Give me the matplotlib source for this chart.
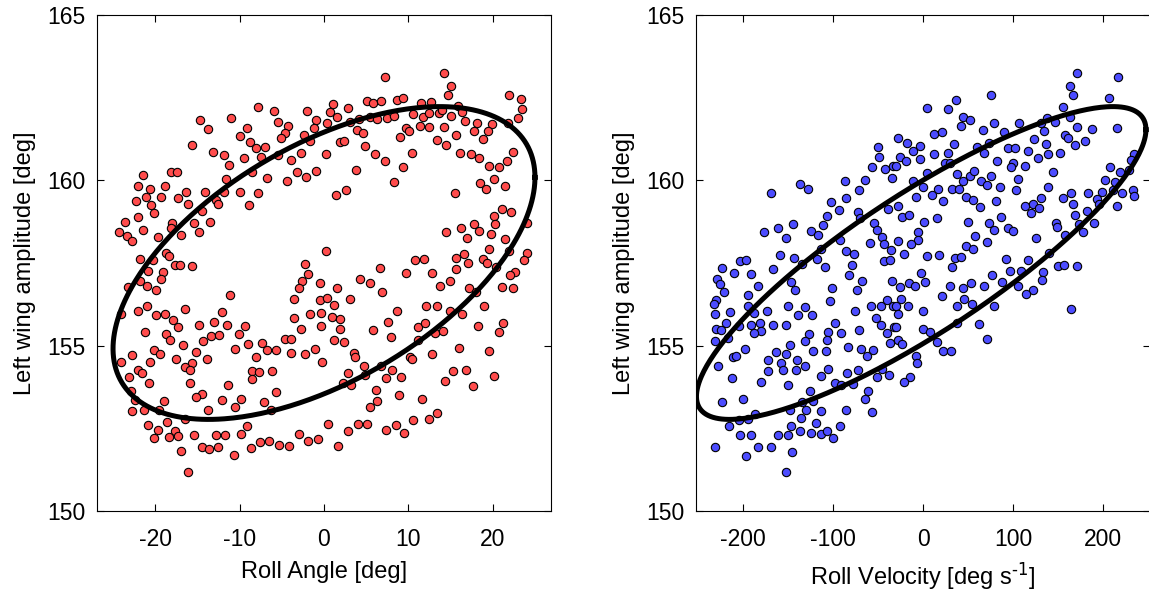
import numpy as np
import matplotlib.pyplot as plt

plt.rcParams['font.family'] = ['Liberation Sans', 'DejaVu Sans']
plt.rcParams['axes.unicode_minus'] = False
plt.rcParams['mathtext.default'] = 'regular'

# ---- left panel: roll angle vs left wing amplitude
roll_angle = [
    # upper left
    -7.8, -5.9, -2.0, -11.0, -14.7, -5.5, -0.9, -4.3, -9.1, -13.8,
    -1.2, -4.6, -9.9, -5.1, -2.4, -8.8, -1.7, -15.6, -7.0, -8.1,
    -13.2, -11.9, -2.7, -7.5, -9.5, -5.5, -3.9, -11.2, -18.1, -17.4,
    -21.5, -8.5, -3.2, -0.9, -2.1, -6.7, -4.4, -11.6, -22.0, -18.8,
    -20.6, -21.1, -19.3, -17.3, -16.4, -14.1, -11.9, -9.9, -7.8, -22.3,
    -20.5, -16.1, -12.8, -12.6, -8.9, -20.1, -22.1, -14.5, -15.4, -14.8,
    -13.5, -23.6, -18.0, -24.3, -23.3, -21.4, -22.8, -17.0, -19.7, -18.1,
    -18.7, -18.4, -21.8, -20.3, -17.7, -17.1, -15.6, -2.3, -20.8, -19.1,
    -1.9, -21.8, -19.3, -21.0, -19.9, -2.6, -3.0, -0.5, -23.2,
    # upper right
    7.2, 14.2, 15.1, 14.7, 21.9, 23.4, 23.5, 1.1, 2.8, 5.1,
    5.8, 6.8, 8.6, 9.4, 11.5, 12.7, 0.7, 1.5, 0.3, 3.1,
    4.2, 5.4, 6.3, 7.5, 8.3, 10.5, 11.7, 12.5, 13.6, 14.0,
    15.1, 15.9, 16.4, 16.7, 18.1, 19.9, 21.8, 23.0, 3.9, 4.6,
    9.7, 10.1, 9.0, 11.4, 12.4, 14.2, 15.6, 17.8, 19.4, 18.8,
    13.4, 14.5, 1.9, 2.4, 4.9, 0.2, 6.1, 7.2, 10.4, 9.4,
    3.8, 8.3, 16.1, 17.4, 18.4, 22.4, 21.7, 19.6, 20.7, 18.5,
    19.2, 20.1, 21.5, 2.6, 1.4, 15.5, 21.1, 22.2, 20.1, 20.3,
    24.0, 17.8, 16.2, 18.4, 14.5, 17.0, 19.8, 21.5, 0.2, 19.6,
    21.9, 24.0, 23.7, 16.6, 15.7, 18.9, 19.3, 17.1, 10.8, 11.9,
    6.6, 15.7, 20.4, 22.6, 22.1, 9.7, 12.8, 4.3, 5.4, 14.9,
    13.8, 17.2, 21.1, 22.4, 1.5,
    # lower left
    -11.1, -16.5, -21.0, -22.1, -19.9, -18.8, -17.9, -17.3, -24.0, -12.1,
    -13.0, -11.5, -9.4, -14.8, -21.2, -18.7, -18.2, -16.7, -14.3, -13.4,
    -12.4, -10.1, -10.5, -9.0, -7.3, -6.8, -5.7, -4.6, -3.9, -3.9,
    -2.3, -1.1, -3.5, -2.7, -1.6, -0.3, -0.2, -3.5, -0.5, -20.1,
    -19.4, -22.8, -24.1, -20.6, -17.5, -15.2, -13.9, -15.6, -16.5, -15.9,
    -22.1, -21.6, -23.1, -20.7, -15.9, -8.0, -8.5, -7.7, -6.2, -8.5,
    -11.4, -14.4, -15.2, -12.1, -9.8, -10.6, -7.1, -5.7, -6.3, -19.0,
    -22.9, -22.4, -22.7, -21.3, -19.6, -13.7, -16.5, -18.6, -20.8, -19.7,
    -17.7, -17.3, -18.4, -20.2, -15.4, -12.8, -11.7, -9.8, -9.1, -16.9,
    -14.5, -13.6, -12.6, -10.7, -8.6, -7.6, -6.5, -5.3, -4.2, -3.0,
    -1.9, -0.7, -16.1,
    # lower right
    6.9, 3.1, 0.4, 1.2, -0.3, 1.0, 1.9, 1.9, 1.2, 2.4,
    3.6, 3.7, 2.8, 4.7, 4.9, 2.3, 3.2, 5.8, 7.6, 7.9,
    8.7, 6.8, 8.1, 7.4, 9.1, 6.2, 8.9, 6.3, 5.5, 10.2,
    10.4, 11.1, 12.0, 11.1, 12.8, 12.1, 13.4, 13.1, 14.1, 14.9,
    18.0, 19.0, 16.4, 18.3, 21.2, 20.7, 16.0, 19.6, 15.3, 16.8,
    14.3, 17.6, 20.2, 11.6, 13.4, 12.5, 10.5, 8.5, 7.4, 9.5,
    5.1, 4.0, 2.8, 0.5, 1.6,
]
amp_vs_angle = [
    # upper left
    162.21, 162.10, 162.11, 161.88, 161.83, 161.77, 161.83, 161.64, 161.59, 161.54,
    161.59, 161.42, 161.33, 161.28, 161.37, 161.17, 161.18, 161.07, 161.02, 160.97,
    160.87, 160.77, 160.82, 160.72, 160.67, 160.77, 160.62, 160.45, 160.26, 160.25,
    160.16, 160.26, 160.26, 160.29, 160.11, 160.06, 159.98, 160.03, 159.83, 159.83,
    159.73, 159.49, 159.50, 159.48, 159.64, 159.64, 159.66, 159.64, 159.63, 159.38,
    159.24, 159.29, 159.41, 159.29, 159.24, 159.02, 158.90, 159.08, 158.70, 158.45,
    158.75, 158.75, 158.72, 158.45, 158.33, 158.50, 158.17, 158.36, 158.28, 158.55,
    157.81, 157.72, 157.61, 157.59, 157.44, 157.44, 157.42, 157.47, 157.27, 157.23,
    157.16, 156.97, 157.01, 156.81, 156.69, 156.97, 156.75, 156.91, 156.77,
    # upper right
    163.14, 163.26, 162.85, 162.58, 162.59, 162.45, 162.17, 162.30, 162.20, 162.41,
    162.35, 162.41, 162.43, 162.48, 162.33, 162.38, 162.08, 161.93, 161.74, 161.77,
    161.85, 161.93, 161.85, 161.88, 161.95, 162.01, 161.93, 162.03, 162.03, 162.13,
    161.96, 162.26, 162.06, 161.80, 161.72, 161.71, 161.74, 161.88, 161.52, 161.44,
    161.57, 161.49, 161.32, 161.64, 161.62, 161.62, 161.36, 161.50, 161.49, 161.24,
    161.22, 161.08, 161.15, 161.19, 161.04, 160.80, 160.80, 160.59, 160.84, 160.41,
    160.32, 159.95, 160.84, 160.80, 160.67, 160.85, 160.59, 160.44, 160.41, 159.91,
    159.73, 160.04, 159.83, 159.71, 159.56, 159.63, 159.12, 159.05, 158.93, 158.68,
    158.72, 158.68, 158.57, 158.47, 158.45, 158.27, 158.37, 158.24, 157.87, 157.91,
    157.86, 157.79, 157.59, 157.77, 157.66, 157.61, 157.49, 157.49, 157.59, 157.61,
    157.34, 157.31, 157.39, 157.22, 157.14, 157.21, 157.19, 157.02, 156.89, 156.97,
    156.79, 156.74, 156.76, 156.73, 156.73,
    # lower left
    156.54, 156.10, 156.20, 156.06, 155.93, 155.96, 155.78, 155.55, 155.96, 156.01,
    155.72, 155.63, 155.60, 155.63, 155.40, 155.36, 155.16, 155.03, 155.15, 155.28,
    155.32, 155.36, 154.91, 155.05, 155.08, 154.86, 154.87, 155.21, 155.19, 154.79,
    154.75, 154.89, 155.83, 155.51, 155.97, 155.60, 154.50, 156.41, 156.39, 154.87,
    154.75, 154.71, 154.50, 154.52, 154.59, 154.82, 154.59, 154.47, 154.35, 154.27,
    154.25, 154.17, 154.04, 153.86, 153.86, 154.65, 154.22, 154.19, 154.22, 153.99,
    153.81, 153.54, 153.46, 153.36, 153.39, 153.16, 153.31, 153.60, 153.06, 153.34,
    153.64, 153.36, 153.01, 153.06, 153.04, 153.06, 152.79, 152.68, 152.59, 152.45,
    152.43, 152.27, 152.25, 152.21, 152.30, 152.30, 152.30, 152.32, 152.57, 151.80,
    151.93, 151.88, 151.95, 151.68, 151.90, 152.10, 152.13, 152.01, 151.98, 152.33,
    152.13, 152.19, 151.19,
    # lower right
    156.62, 156.41, 156.44, 156.23, 155.98, 155.86, 155.82, 155.50, 155.16, 155.12,
    154.79, 154.67, 154.17, 154.39, 154.10, 153.87, 153.81, 155.48, 155.71, 155.26,
    156.04, 154.39, 154.27, 154.02, 154.04, 153.66, 153.51, 153.33, 153.16, 154.67,
    154.59, 155.57, 155.68, 155.18, 154.75, 156.20, 156.21, 155.38, 155.45, 156.06,
    156.61, 156.20, 155.95, 155.58, 155.70, 155.41, 154.92, 154.85, 154.22, 154.25,
    153.92, 153.78, 154.07, 153.39, 152.96, 152.79, 152.76, 152.60, 152.45, 152.35,
    152.64, 152.63, 152.41, 152.64, 151.97,
]

# ---- right panel: roll velocity vs left wing amplitude
roll_velocity = [
    # upper left
    -49.6, -48.5, -56.3, -42.6, -33.0, -34.8, -64.4, -86.7, -71.1, -136.3,
    -128.2, -168.9, -85.9, -102.6, -93.0, -71.9, -38.5, -106.3, -111.5, -144.8,
    -176.3, -160.8, -152.6, -124.8, -117.0, -54.1, -51.5, -45.9, -70.0, -92.2,
    -58.9, -43.7, -35.5, -85.6, -76.3, -113.3, -118.2, -158.2, -143.0, -134.1,
    -108.9, -79.3, -81.9, -68.2, -43.0, -36.7, -34.8, -203.3, -197.0, -222.6,
    -209.6, -190.4, -166.3, -228.5, -225.6, -183.7, -146.7, -142.2, -100.8, -73.7,
    # upper right
    170.8, 216.3, 163.4, 166.0, 206.0, 75.2, 36.3, 4.8, 28.2, 155.2,
    44.8, 52.2, 42.2, 79.3, 106.7, 130.8, 138.2, 146.7, 163.4, 171.1,
    187.4, 215.2, -27.4, -17.4, -3.3, -10.7, 12.6, 20.8, 67.1, 90.4,
    34.8, 60.4, 67.8, 73.7, 94.8, 102.2, 116.3, 123.7, 136.3, 134.5,
    157.8, 161.5, 168.2, 179.3, 152.2, 139.3, 128.2, -25.5, -19.2, -3.3,
    12.6, 27.4, 24.5, 30.0, -30.4, 82.6, 100.4, 97.8, 113.4, 144.8,
    207.1, 218.2, 228.2, 233.7, 231.1, 4.8, 38.2, 44.8, 52.2, 56.7,
    64.1, 70.8, 75.2, -10.7, 0.4, 16.3, 32.6, 40.4, 85.6, 103.0,
    105.9, 139.3, 202.3, 212.6, 210.8, 198.5, 183.7, 164.5, 155.9, 220.8,
    232.6, 233.7, 215.2, 193.0, 195.6, 181.9, 166.3, 168.9, 173.7, 177.4,
    189.3, 9.6, -7.8, 22.6, 47.8, 55.9, 63.4, 81.1, 113.4, 122.6,
    128.9, 119.6, 131.1, -28.1, -23.7, -15.5, 15.2, 1.5, 50.4, 73.7,
    78.9, 86.7, 94.8, 100.4, 147.8, 148.5, 157.8, 125.6, -5.2, -5.9,
    -13.7, -28.1, 57.8, 70.8, 47.4, 55.9, -21.1, 4.8, 17.8, 35.6,
    42.2, 32.6, 92.2, 117.1, 140.0, 150.4, 156.7, 171.5, 96.7, 108.5,
    133.7, 131.9, -2.6, 2.2, -15.2, -8.9, 76.3, 53.3, 88.2, 30.0,
    44.8, 68.2, 105.9, 122.6,
    # lower left
    -220.8, -194.1, -230.0, -231.9, -230.4, -214.5, -194.1, -187.8, -173.7, -150.4,
    -131.1, -123.7, -139.3, -103.3, -218.9, -229.3, -223.7, -231.1, -190.4, -181.1,
    -180.0, -187.4, -204.5, -216.3, -166.3, -152.2, -126.3, -131.1, -105.9, -97.8,
    -91.1, -107.0, -75.6, -71.1, -58.2, -52.2, -46.7, -40.4, -33.0, -46.7,
    -40.4, -31.9, -36.7, -147.8, -163.3, -152.6, -172.6, -157.8, -139.6, -155.2,
    -171.9, -141.5, -131.1, -121.9, -108.2, -83.0, -69.3, -55.2, -62.6, -105.2,
    -113.7, -97.8, -91.1, -84.8, -71.9, -78.2, -51.5, -45.9, -37.8, -197.8,
    -210.8, -207.1, -227.4, -211.9, -179.3, -150.4, -125.6, -134.8, -121.9, -130.4,
    -147.8, -113.3, -85.9, -64.4, -60.7, -57.0, -223.0, -199.6, -186.7, -194.1,
    -204.5, -215.6, -135.6, -146.7, -119.3, -92.2, -136.7, -124.8, -113.7, -106.3,
    -100.4, -149.6, -160.8, -190.4, -202.6, -230.4, -183.7, -168.9, -145.2, -197.0,
    -152.6,
    # lower right
    -25.5, 114.1, -24.8, -30.0, -16.3, -27.4, -0.3, -30.0, 0.4, 7.8,
    -28.1, -23.7, 20.8, 37.4, 45.9, 54.1, 79.3, 37.4, 62.6, 71.1,
    15.2, 22.6, 30.8, -7.8, -7.0, -14.4, -21.1, 164.1,
]
amp_vs_velocity = [
    # upper left
    161.00, 160.70, 160.41, 160.33, 160.44, 160.06, 160.01, 159.97, 159.71, 159.90,
    159.73, 159.62, 159.48, 159.35, 159.10, 159.03, 159.12, 158.92, 158.66, 158.67,
    158.44, 158.55, 158.25, 158.47, 158.34, 158.72, 158.50, 158.30, 158.85, 158.20,
    158.10, 158.07, 157.89, 157.86, 157.76, 157.91, 157.61, 157.74, 157.64, 157.47,
    157.39, 157.44, 157.14, 156.96, 157.56, 157.59, 156.96, 157.57, 157.59, 157.34,
    157.21, 157.16, 157.31, 157.02, 156.87, 156.79, 156.94, 156.69, 156.73, 156.68,
    # upper right
    163.26, 163.12, 162.85, 162.58, 162.48, 162.59, 162.43, 162.19, 162.16, 162.23,
    161.91, 161.83, 161.65, 161.72, 161.72, 161.72, 161.88, 161.77, 161.93, 161.62,
    161.54, 161.57, 161.27, 161.12, 161.04, 160.89, 161.39, 161.47, 161.52, 161.47,
    161.10, 161.00, 160.82, 161.14, 160.97, 160.99, 160.90, 161.25, 161.10, 161.49,
    161.37, 161.27, 161.07, 161.20, 160.84, 160.80, 160.67, 160.72, 160.57, 160.64,
    160.80, 160.82, 160.52, 160.52, 160.43, 160.59, 160.52, 160.40, 160.43, 160.26,
    160.39, 160.25, 160.31, 160.80, 160.62, 160.23, 160.19, 159.99, 160.14, 160.28,
    159.99, 159.86, 160.13, 159.99, 159.81, 159.74, 159.75, 159.74, 159.81, 159.71,
    160.04, 159.81, 160.01, 159.94, 159.71, 159.66, 159.61, 159.63, 159.46, 159.61,
    159.71, 159.53, 159.23, 159.43, 159.29, 159.08, 159.29, 158.95, 158.68, 158.43,
    158.72, 159.56, 159.49, 159.38, 159.51, 159.41, 159.20, 159.36, 159.23, 159.29,
    159.15, 159.00, 159.48, 159.23, 158.90, 158.95, 158.85, 158.73, 158.73, 158.70,
    158.50, 158.90, 158.57, 158.48, 158.70, 158.60, 158.35, 158.25, 158.45, 158.20,
    158.07, 158.17, 158.33, 158.15, 158.02, 157.91, 157.76, 157.71, 157.74, 157.66,
    157.69, 157.39, 157.61, 157.59, 157.79, 157.41, 157.44, 157.41, 157.27, 157.27,
    157.23, 156.99, 157.19, 156.94, 156.89, 156.81, 157.14, 156.91, 156.94, 156.79,
    156.73, 156.79, 156.79, 156.69,
    # lower left
    156.61, 156.54, 156.39, 156.26, 155.96, 156.03, 156.20, 155.98, 156.06, 156.20,
    156.18, 155.94, 155.94, 156.35, 155.68, 155.50, 155.46, 155.15, 155.63, 155.70,
    155.43, 155.38, 155.58, 155.23, 155.63, 155.61, 155.35, 155.15, 155.41, 155.68,
    155.38, 155.18, 156.05, 155.48, 156.21, 155.85, 156.20, 156.39, 156.20, 155.61,
    155.38, 155.56, 155.07, 155.02, 154.80, 154.75, 154.57, 154.47, 154.57, 154.25,
    154.22, 154.27, 154.37, 154.84, 154.85, 154.95, 154.90, 154.87, 154.69, 154.29,
    154.07, 153.87, 153.82, 154.17, 154.25, 153.84, 154.04, 154.29, 154.10, 154.90,
    154.65, 154.69, 154.37, 154.02, 153.90, 153.80, 153.63, 153.31, 153.34, 153.04,
    153.06, 153.01, 153.06, 153.39, 153.63, 153.00, 153.29, 153.39, 152.94, 152.78,
    152.76, 152.58, 152.81, 152.56, 152.66, 152.58, 152.43, 152.37, 152.32, 152.43,
    152.20, 152.30, 152.30, 152.30, 152.31, 151.95, 151.93, 151.93, 151.79, 151.67,
    151.17,
    # lower right
    156.77, 156.57, 156.42, 156.20, 156.21, 155.96, 156.05, 155.56, 155.51, 155.41,
    155.18, 155.05, 156.49, 156.20, 156.41, 156.25, 156.20, 155.68, 155.65, 155.21,
    155.11, 154.85, 154.85, 154.69, 154.49, 154.05, 153.90, 156.10,
]

# ellipse fits: centre, (x amplitude, y amplitude), phase lag of y in degrees
ell_angle = dict(center=(0.0, 157.5), amp=(25.0, 4.73), phase=56.8)
ell_velocity = dict(center=(-2.0, 157.5), amp=(249.5, 4.73), phase=31.5)

red = '#ff4c4c'
blue = '#4c4cff'


def ellipse(center, amp, phase):
    t = np.linspace(0, 2 * np.pi, 400)
    x = center[0] + amp[0] * np.cos(t)
    y = center[1] + amp[1] * np.cos(t - np.radians(phase))
    return x, y


def style(ax, xlim, xticks, xlabel):
    ax.set_xlim(*xlim)
    ax.set_ylim(150, 165)
    ax.set_xticks(xticks)
    ax.set_yticks([150, 155, 160, 165])
    ax.tick_params(direction='in', top=True, right=True, length=5, width=0.8,
                   labelsize=16.5, color='black')
    ax.tick_params(axis='x', pad=12)
    ax.tick_params(axis='y', pad=8)
    for s in ax.spines.values():
        s.set_linewidth(0.8)
    ax.set_xlabel(xlabel, fontsize=17)
    ax.set_ylabel('Left wing amplitude [deg]', fontsize=17)
    ax.yaxis.set_label_coords(-0.134, 0.5)
    ax.xaxis.set_label_coords(0.5, -0.10)


fig = plt.figure(figsize=(11.49, 5.91), dpi=100)
ax1 = fig.add_axes([97 / 1149, 80 / 591, 454 / 1149, 496 / 591])
ax2 = fig.add_axes([696 / 1149, 80 / 591, 454 / 1149, 496 / 591])

ax1.scatter(roll_angle, amp_vs_angle, s=36, c=red, edgecolors='black',
            linewidths=0.8, zorder=2)
ex, ey = ellipse(**ell_angle)
ax1.plot(ex, ey, color='black', lw=3.6, zorder=3)
style(ax1, (-26.9, 26.9), [-20, -10, 0, 10, 20], 'Roll Angle [deg]')

ax2.scatter(roll_velocity, amp_vs_velocity, s=36, c=blue, edgecolors='black',
            linewidths=0.8, zorder=2)
ex, ey = ellipse(**ell_velocity)
ax2.plot(ex, ey, color='black', lw=3.6, zorder=3)
style(ax2, (-252, 252), [-200, -100, 0, 100, 200],
      r'Roll Velocity [deg s$^{\text{-1}}$]')

fig.savefig('out.png', dpi=100)
